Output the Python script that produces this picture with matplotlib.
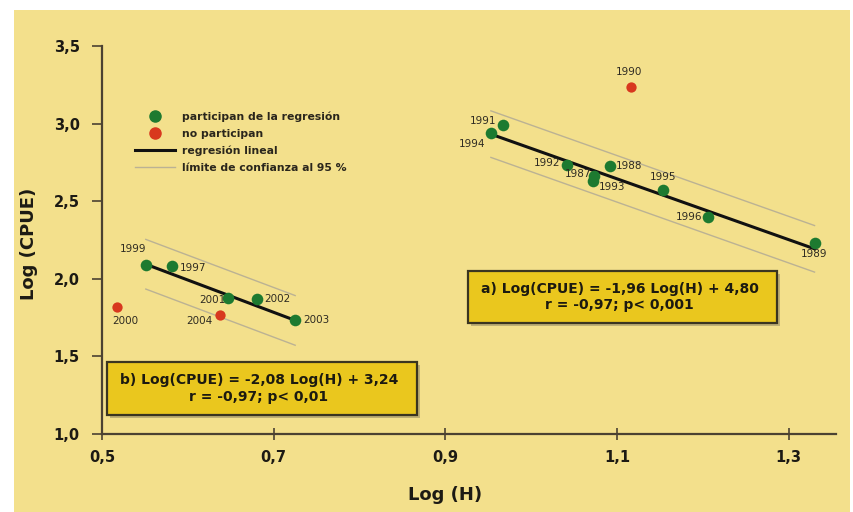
import numpy as np
import matplotlib

matplotlib.use("Agg")
import matplotlib.pyplot as plt
from matplotlib.lines import Line2D
from matplotlib.patches import Rectangle

# group a) 1987-1996
years_a = ["1987", "1988", "1989", "1991", "1992", "1993", "1994", "1995", "1996"]
h_a = [1.073, 1.092, 1.330, 0.967, 1.042, 1.072, 0.953, 1.153, 1.206]
cpue_a = [2.665, 2.73, 2.23, 2.99, 2.735, 2.63, 2.94, 2.575, 2.40]
out_years_a = ["1990"]
out_h_a = [1.116]
out_cpue_a = [3.236]
slope_a, icpt_a, conf_a = -1.96, 4.80, 0.15

# group b) 1997-2004
years_b = ["1997", "1999", "2001", "2002", "2003"]
h_b = [0.582, 0.551, 0.647, 0.681, 0.725]
cpue_b = [2.08, 2.086, 1.874, 1.868, 1.733]
out_years_b = ["2000", "2004"]
out_h_b = [0.518, 0.638]
out_cpue_b = [1.82, 1.765]
slope_b, icpt_b, conf_b = -2.08, 3.24, 0.16

x_ticks = [0.5, 0.7, 0.9, 1.1, 1.3]
y_ticks = [1.0, 1.5, 2.0, 2.5, 3.0, 3.5]

BG = "#f3e08c"
GREEN = "#1d7a30"
RED = "#d8381e"
AXIS = "#4b4232"
BOX = "#eac71e"
CONF = "#bbb294"

# label offsets (points), alignment
label_style = {
    "1987": (-2, 1, "right", "center"),
    "1988": (4, 0, "left", "center"),
    "1989": (0, -8, "center", "center"),
    "1991": (-5, 3, "right", "center"),
    "1992": (-5, 1, "right", "center"),
    "1993": (4, -4, "left", "center"),
    "1994": (-4, -8, "right", "center"),
    "1995": (0, 9, "center", "center"),
    "1996": (-4, 0, "right", "center"),
    "1990": (-1, 11, "center", "center"),
    "1997": (5, -1, "left", "center"),
    "1999": (-9, 12, "center", "center"),
    "2001": (-2, -1, "right", "center"),
    "2002": (5, 0, "left", "center"),
    "2003": (6, 0, "left", "center"),
    "2000": (6, -10, "center", "center"),
    "2004": (-6, -4, "right", "center"),
}

fig = plt.figure(figsize=(8.54, 5.12), dpi=100)
fig.patch.set_facecolor("white")
fig.patches.append(Rectangle((14 / 854, 0), 836 / 854, 502 / 512,
                             transform=fig.transFigure, facecolor=BG,
                             edgecolor="none", zorder=-10))

ax = fig.add_axes([102 / 854, 78 / 512, 734 / 854, 388 / 512])
ax.set_facecolor("none")
ax.set_xlim(0.5, 1.355)
ax.set_ylim(1.0, 3.5)

for spine in ["top", "right"]:
    ax.spines[spine].set_visible(False)
for spine in ["left", "bottom"]:
    ax.spines[spine].set_color(AXIS)
    ax.spines[spine].set_linewidth(1.6)

ax.set_xticks(x_ticks, labels=[f"{t:.1f}".replace(".", ",") for t in x_ticks])
ax.set_yticks(y_ticks, labels=[f"{t:.1f}".replace(".", ",") for t in y_ticks])
ax.tick_params(axis="x", direction="inout", length=9, width=1.2, color=AXIS, pad=7)
ax.tick_params(axis="y", direction="out", length=7, width=1.2, color=AXIS, pad=9)
for lab in ax.get_xticklabels() + ax.get_yticklabels():
    lab.set_fontweight("bold")
    lab.set_fontsize(10.5)
    lab.set_color("#1c1a14")

ax.set_xlabel("Log (H)", fontsize=13, fontweight="bold", color="#1c1a14")
ax.xaxis.set_label_coords((445 - 102) / 734, -0.134)
ax.set_ylabel("Log (CPUE)", fontsize=13, fontweight="bold", color="#1c1a14")
ax.yaxis.set_label_coords(-0.087, 0.49)


def draw_group(h, cpue, slope, icpt, conf):
    xs = np.array([min(h), max(h)])
    fit = slope * xs + icpt
    ax.plot(xs, fit + conf, color=CONF, lw=1.0, zorder=2)
    ax.plot(xs, fit - conf, color=CONF, lw=1.0, zorder=2)
    ax.plot(xs, fit, color="#111111", lw=2.2, zorder=3)


draw_group(h_a, cpue_a, slope_a, icpt_a, conf_a)
draw_group(h_b, cpue_b, slope_b, icpt_b, conf_b)

ax.scatter(h_a + h_b, cpue_a + cpue_b, s=70, color=GREEN, zorder=4, linewidths=0)
ax.scatter(out_h_a + out_h_b, out_cpue_a + out_cpue_b, s=55, color=RED,
           zorder=4, linewidths=0)

for years, hs, cs in [(years_a, h_a, cpue_a), (years_b, h_b, cpue_b),
                      (out_years_a, out_h_a, out_cpue_a),
                      (out_years_b, out_h_b, out_cpue_b)]:
    for yr, x, y in zip(years, hs, cs):
        dx, dy, ha, va = label_style[yr]
        ax.annotate(yr, (x, y), xytext=(dx, dy), textcoords="offset points",
                    ha=ha, va=va, fontsize=7.5, color="#2e2b22", zorder=5)

handles = [
    Line2D([], [], ls="none", marker="o", ms=8, color=GREEN),
    Line2D([], [], ls="none", marker="o", ms=8, color=RED),
    Line2D([], [], color="#111111", lw=2.2),
    Line2D([], [], color=CONF, lw=1.0),
]
names = ["participan de la regresión", "no participan", "regresión lineal",
         "límite de confianza al 95 %"]
leg = ax.legend(handles, names, loc="upper left",
                bbox_to_anchor=((135 - 102) / 734, (434 - 111) / 388),
                frameon=False, borderpad=0, borderaxespad=0, handlelength=3.7,
                handletextpad=0.65, labelspacing=0.65,
                prop={"weight": "bold", "size": 7.8})
for t in leg.get_texts():
    t.set_color("#2a261c")


def eq_box(x0, y0, x1, y1, text):
    # pixel coords in the 854x512 figure, y from top
    w, h = (x1 - x0) / 854, (y1 - y0) / 512
    fx, fy = x0 / 854, 1 - y1 / 512
    fig.patches.append(Rectangle((fx + 3 / 854, fy - 3 / 512), w, h,
                                 transform=fig.transFigure, facecolor="#a89b6a",
                                 edgecolor="none", alpha=0.7, zorder=5))
    fig.patches.append(Rectangle((fx, fy), w, h, transform=fig.transFigure,
                                 facecolor=BOX, edgecolor="#3a3520", lw=1.6,
                                 zorder=6))
    fig.text(fx + w / 2 - 3 / 854, fy + h / 2, text, ha="center", va="center",
             multialignment="center", fontsize=10, fontweight="bold",
             color="#1c1a10", linespacing=1.25, zorder=7)


eq_box(468, 271, 777, 323, "a) Log(CPUE) = -1,96 Log(H) + 4,80\nr = -0,97; p< 0,001")
eq_box(107, 362, 417, 415, "b) Log(CPUE) = -2,08 Log(H) + 3,24\nr = -0,97; p< 0,01")

fig.savefig("out.png", dpi=100, facecolor=fig.get_facecolor())
